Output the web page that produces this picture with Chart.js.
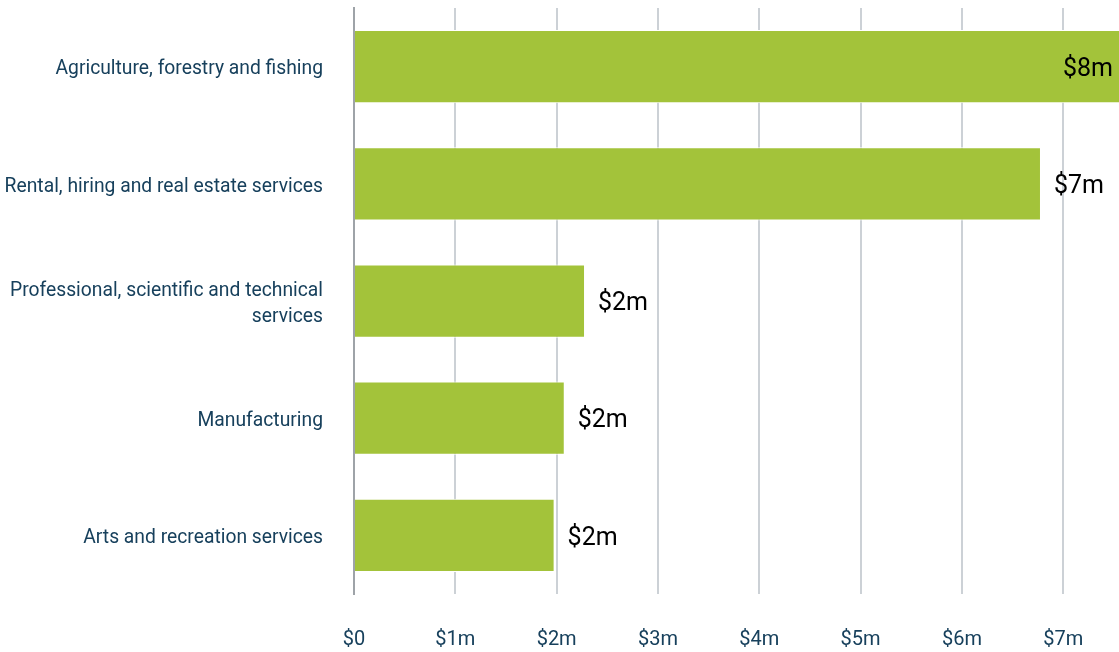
<!DOCTYPE html>
<html>
<head>
<meta charset="utf-8">
<script src="https://cdn.jsdelivr.net/npm/chart.js@4/dist/chart.umd.min.js"></script>
<style>
  html, body { margin: 0; padding: 0; background: #fff; }
  #wrap { width: 1119px; height: 652px; position: relative; }
</style>
</head>
<body>
<div id="wrap"><canvas id="industry"></canvas></div>
<script>
// industries, top to bottom
const categories = [
    'Agriculture, forestry and fishing',
    'Rental, hiring and real estate services',
    ['Professional, scientific and technical', 'services'],
    'Manufacturing',
    'Arts and recreation services'
];
// spend in $ millions
const spend = [7.9, 6.78, 2.28, 2.08, 1.98];
const tickValues = [0, 1, 2, 3, 4, 5, 6, 7];

const fmt = v => v === 0 ? '$0' : '$' + Math.round(v) + 'm';

// writes the rounded value next to each bar (inside the bar if it runs off the edge)
const valueLabels = {
    id: 'valueLabels',
    afterDatasetsDraw(chart) {
        const ctx = chart.ctx;
        const area = chart.chartArea;
        const meta = chart.getDatasetMeta(0);
        ctx.save();
        ctx.font = '25px Roboto';
        ctx.fillStyle = '#000';
        ctx.textBaseline = 'middle';
        meta.data.forEach((bar, i) => {
            const txt = fmt(spend[i]);
            const w = ctx.measureText(txt).width;
            let x = bar.x + 13;
            if (x + w > area.right) x = area.right - w - 6;
            ctx.fillText(txt, x, bar.y + 3);
        });
        ctx.restore();
    }
};

new Chart(document.getElementById('industry').getContext('2d'), {
    type: 'bar',
    data: {
        labels: categories,
        datasets: [{
            data: spend,
            backgroundColor: '#a3c33a',
            borderColor: '#ffffff',
            borderWidth: 1,
            barPercentage: 0.625,
            categoryPercentage: 1
        }]
    },
    options: {
        indexAxis: 'y',
        responsive: true,
        maintainAspectRatio: false,
        animation: false,
        layout: { padding: { top: 8, right: 0, left: 0, bottom: 0 } },
        plugins: {
            legend: { display: false },
            tooltip: { enabled: false }
        },
        scales: {
            x: {
                min: 0,
                max: 7.55,
                afterBuildTicks: scale => {
                    scale.ticks = tickValues.map(v => ({ value: v }));
                },
                afterFit: scale => { scale.height = 58; },
                grid: {
                    color: ctx => ctx.tick && ctx.tick.value === 0 ? '#9ea3a8' : '#ccd1d6',
                    lineWidth: 2,
                    drawTicks: false
                },
                border: { display: false },
                ticks: {
                    padding: 34,
                    color: '#17405c',
                    font: { family: 'Roboto', size: 20 },
                    callback: v => fmt(v)
                }
            },
            y: {
                afterFit: scale => {
                    scale.width = 354;
                    scale.paddingTop = 0;
                    scale.paddingBottom = 0;
                },
                grid: { display: false, drawTicks: false },
                border: { display: true, color: '#9ea3a8', width: 2 },
                ticks: {
                    padding: 31,
                    labelOffset: 3,
                    color: '#17405c',
                    font: { family: 'Roboto', size: 19.3, lineHeight: 1.35 }
                }
            }
        }
    },
    plugins: [valueLabels]
});
</script>
</body>
</html>
